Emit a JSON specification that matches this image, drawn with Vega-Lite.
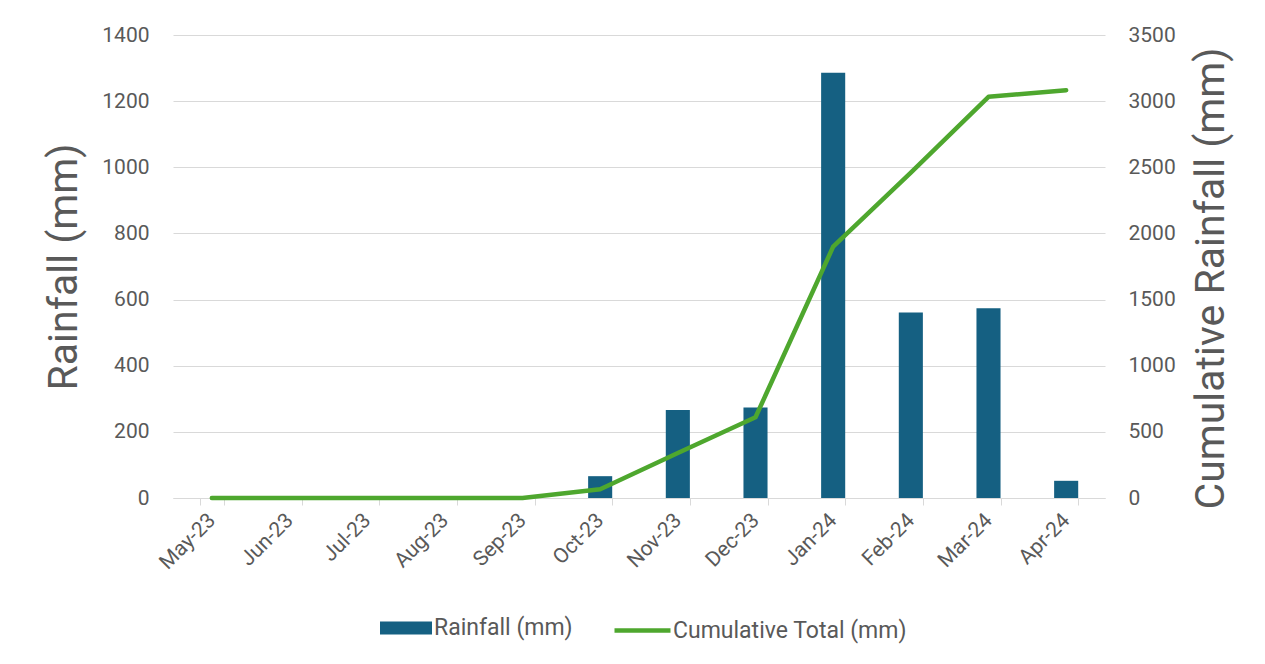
{
  "$schema": "https://vega.github.io/schema/vega-lite/v6.json",
  "autosize": {"type": "none"},
  "padding": {"left": 173, "top": 35, "right": 160, "bottom": 166},
  "width": 932,
  "height": 463,
  "background": "white",
  "config": {
    "font": "Roboto",
    "view": {"stroke": null},
    "axis": {"labelColor": "#595959", "titleColor": "#595959", "titleFontWeight": "normal", "labelFont": "Roboto", "titleFont": "Roboto"},
    "legend": {"labelColor": "#595959", "labelFont": "Roboto", "labelLimit": 0}
  },
  "data": {
    "values": [
      {"month": "May-23", "rainfall": 0, "cumulative": 0},
      {"month": "Jun-23", "rainfall": 0, "cumulative": 0},
      {"month": "Jul-23", "rainfall": 0, "cumulative": 0},
      {"month": "Aug-23", "rainfall": 0, "cumulative": 0},
      {"month": "Sep-23", "rainfall": 0, "cumulative": 0},
      {"month": "Oct-23", "rainfall": 66, "cumulative": 66},
      {"month": "Nov-23", "rainfall": 266, "cumulative": 340},
      {"month": "Dec-23", "rainfall": 274, "cumulative": 610},
      {"month": "Jan-24", "rainfall": 1286, "cumulative": 1900},
      {"month": "Feb-24", "rainfall": 561, "cumulative": 2460},
      {"month": "Mar-24", "rainfall": 574, "cumulative": 3033},
      {"month": "Apr-24", "rainfall": 52, "cumulative": 3083}
    ]
  },
  "encoding": {
    "x": {
      "field": "month",
      "type": "nominal",
      "sort": null,
      "scale": {"paddingInner": 0.69, "paddingOuter": 0.345},
      "axis": {
        "title": null,
        "tickBand": "extent",
        "ticks": true,
        "tickSize": 7,
        "tickColor": "#d9d9d9",
        "domainColor": "#d9d9d9",
        "domainWidth": 1,
        "grid": false,
        "labelAngle": -45,
        "labelAlign": "right",
        "labelBaseline": "middle",
        "labelFontSize": 21,
        "labelPadding": 12
      }
    }
  },
  "layer": [
    {
      "mark": {"type": "bar"},
      "encoding": {
        "y": {
          "field": "rainfall",
          "type": "quantitative",
          "scale": {"domain": [0, 1400], "nice": false},
          "axis": {
            "orient": "left",
            "values": [0, 200, 400, 600, 800, 1000, 1200, 1400],
            "format": "d",
            "title": "Rainfall (mm)",
            "titleFontSize": 41,
            "titlePadding": 16,
            "grid": true,
            "gridColor": "#d9d9d9",
            "gridWidth": 1,
            "domain": false,
            "ticks": false,
            "tickSize": 0,
            "labelPadding": 24,
            "labelFontSize": 21
          }
        },
        "fill": {
          "datum": "Rainfall (mm)",
          "type": "nominal",
          "scale": {"range": ["#156082"]},
          "legend": {
            "title": null,
            "orient": "none",
            "legendX": 207,
            "legendY": 567,
            "direction": "horizontal",
            "symbolType": "M-1,-0.25H1V0.25H-1Z",
            "symbolSize": 2704,
            "symbolStrokeWidth": 0,
            "labelFontSize": 23,
            "labelOffset": 2
          }
        }
      }
    },
    {
      "mark": {"type": "line", "strokeWidth": 4.5, "strokeCap": "round", "strokeJoin": "round"},
      "encoding": {
        "y": {
          "field": "cumulative",
          "type": "quantitative",
          "scale": {"domain": [0, 3500], "nice": false},
          "axis": {
            "orient": "right",
            "values": [0, 500, 1000, 1500, 2000, 2500, 3000, 3500],
            "format": "d",
            "title": "Cumulative Rainfall (mm)",
            "titleFontSize": 41,
            "titleAngle": 270,
            "titleBaseline": "top",
            "titlePadding": 16,
            "titleY": 243,
            "grid": false,
            "domain": false,
            "ticks": false,
            "tickSize": 0,
            "labelPadding": 23,
            "labelFontSize": 21
          }
        },
        "stroke": {
          "datum": "Cumulative Total (mm)",
          "type": "nominal",
          "scale": {"range": ["#4ea72e"]},
          "legend": {
            "title": null,
            "orient": "none",
            "legendX": 439,
            "legendY": 565,
            "direction": "horizontal",
            "symbolType": "stroke",
            "symbolSize": 3136,
            "symbolStrokeWidth": 4.5,
            "labelFontSize": 23,
            "labelOffset": 0
          }
        }
      }
    }
  ],
  "resolve": {"scale": {"y": "independent"}}
}
